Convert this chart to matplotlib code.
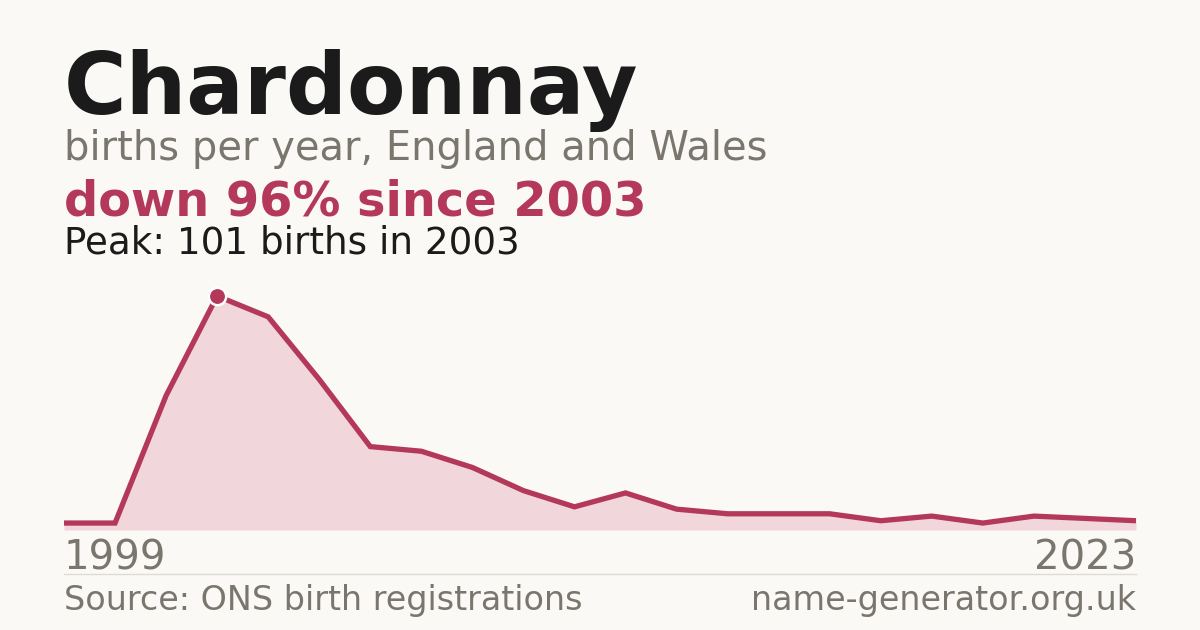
import numpy as np
import matplotlib.pyplot as plt

plt.rcParams['font.family'] = ['DejaVu Sans']

# births per year (first and last years labelled)
births = [3, 3, 58, 101, 92, 65, 36, 34, 27, 17, 10, 16, 9, 7, 7, 7, 4, 6, 3, 6, 5, 4]
first_year = "1999"
last_year = "2023"
peak_idx = 3

bg = '#faf9f5'
red = '#b3385a'
pink = '#f1d6dc'
grey = '#7a766e'
ink = '#1b1b1b'

W, H = 1200, 630
fig = plt.figure(figsize=(12, 6.3), dpi=100, facecolor=bg)

def px(x, y):
    return x / W, 1 - y / H

# plot area: x 64..1136, y=0 at 530, peak at 296
ax = fig.add_axes([64 / W, (H - 530) / H, 1072 / W, 234 / H])
ax.set_facecolor(bg)
x = np.arange(len(births))
ax.fill_between(x, births, 0, color=pink, lw=0)
ax.plot(x, births, color=red, lw=3.8, solid_joinstyle='miter', solid_capstyle='butt', clip_on=False)
ax.plot(x[peak_idx], births[peak_idx], 'o', ms=12.5, color=red, mec='white', mew=1.8, clip_on=False, zorder=5)
ax.set_xlim(0, len(births) - 1)
ax.set_ylim(0, max(births))
ax.axis('off')

fig.text(*px(64, 114), 'Chardonnay', fontsize=61.5, fontweight='bold', color=ink, va='baseline')
fig.text(*px(64, 160), 'births per year, England and Wales', fontsize=28.8, color=grey, va='baseline')
fig.text(*px(64, 215), 'down 96% since 2003', fontsize=34.5, fontweight='bold', color=red, va='baseline')
fig.text(*px(64, 254), 'Peak: 101 births in 2003', fontsize=26.8, color=ink, va='baseline')

fig.text(*px(64, 570), first_year, fontsize=29, color=grey, va='baseline')
fig.text(*px(1136, 570), last_year, fontsize=29, color=grey, va='baseline', ha='right')

fig.add_artist(plt.Line2D([64 / W, 1136 / W], [1 - 574 / H] * 2, color='#dedbd5', lw=1))

fig.text(*px(64, 610), 'Source: ONS birth registrations', fontsize=24, color=grey, va='baseline')
fig.text(*px(1136, 610), 'name-generator.org.uk', fontsize=24, color=grey, va='baseline', ha='right')

fig.savefig('out.png', dpi=100, facecolor=bg)
